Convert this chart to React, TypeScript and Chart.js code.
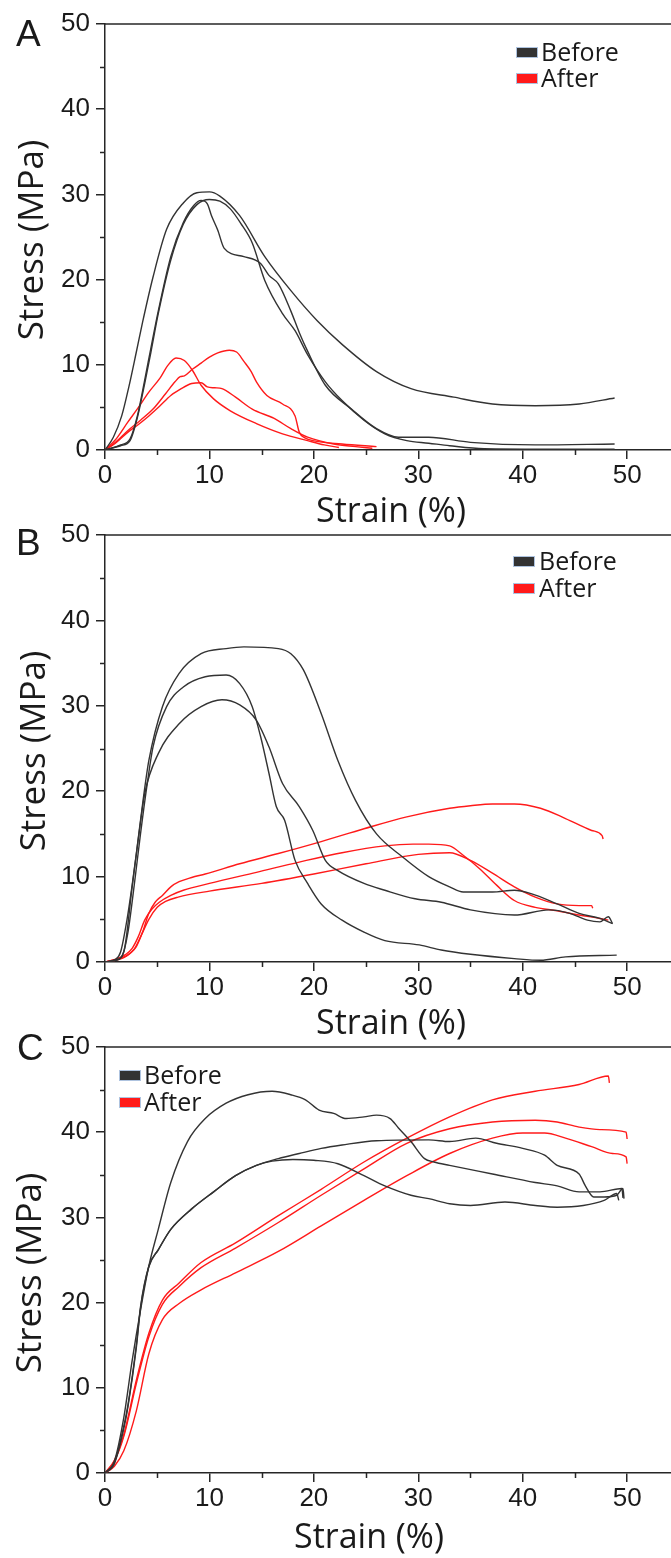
import React, { useEffect, useRef } from 'react';
import { Chart, registerables } from 'chart.js';

Chart.register(...registerables);

// ---------------- data ----------------
const xTicks = [0, 10, 20, 30, 40, 50];
const yTicks = [0, 10, 20, 30, 40, 50];
const minorTicks = [5, 15, 25, 35, 45];
const legendLabels = ['Before', 'After'];
const panelLetters = ['A', 'B', 'C'];
const xTitle = 'Strain (%)';
const yTitle = 'Stress (MPa)';

// Panel A
const A_b1_x = [0, 0.8, 1.6, 2.3, 3, 3.6, 4.6, 5.9, 7.5, 8.8, 10, 11, 12.9, 15.3, 17.8, 20.3, 22.7, 26, 29.3, 33.4, 37.1, 41.2, 45.4, 48.8];
const A_b1_y = [0, 1.5, 4, 7.5, 11.5, 15, 20.3, 25.9, 29, 30.2, 30.3, 29.8, 27.5, 22.7, 18.7, 15.2, 12.4, 9.2, 7.2, 6.2, 5.4, 5.2, 5.4, 6.1];
const A_b2_x = [0, 1.5, 2.4, 3.1, 3.8, 4.4, 5.1, 6.3, 7.5, 8.5, 9.2, 9.8, 10.2, 10.8, 11.4, 13.3, 14.9, 15.7, 16.6, 17.8, 18.6, 19.4, 21.1, 23.6, 26, 28.1, 31, 35, 41.2, 48.8];
const A_b2_y = [0, 0.6, 1.3, 4, 8.2, 12, 16.3, 22.7, 26.7, 28.7, 29.3, 28.9, 27.5, 25.8, 23.7, 22.7, 21.9, 20.5, 19.5, 16.3, 13.8, 11.6, 7.6, 4.8, 2.5, 1.5, 1.5, 0.9, 0.6, 0.7];
const A_b3_x = [0, 1.5, 2.4, 3.1, 3.8, 4.4, 5.1, 6.3, 7.5, 8.8, 10, 11, 12, 13, 14.1, 15.3, 17, 18.2, 19.4, 21.1, 22.7, 24.8, 26.8, 28.9, 31, 33, 36.3, 42, 48.8];
const A_b3_y = [0, 0.5, 1.1, 3.8, 7.8, 11.5, 16, 22.3, 26.5, 28.8, 29.4, 29.2, 28.3, 26.6, 24.3, 19.9, 16, 14, 11.2, 8, 5.8, 3.5, 1.9, 1.1, 0.8, 0.5, 0.15, 0.1, 0.1];
const A_r1_x = [0, 1, 2.2, 3.2, 4.2, 5.3, 6, 6.8, 7.6, 8.4, 9.2, 10.4, 12, 14.5, 17, 19.4, 21, 22.4];
const A_r1_y = [0, 1.2, 3.3, 5, 6.8, 8.5, 9.9, 10.8, 10.5, 9.3, 7.6, 6, 4.6, 3.1, 1.9, 1.1, 0.6, 0.3];
const A_r2_x = [0, 1, 2.2, 3.4, 4.6, 5.8, 6.7, 7.2, 7.6, 8.4, 9.2, 10, 10.8, 11.9, 12.6, 13.3, 14, 14.5, 15.5, 17, 18.2, 18.6, 19.2, 19.9, 22.7, 26];
const A_r2_y = [0, 0.9, 2.3, 3.5, 4.8, 6.6, 8, 8.6, 8.7, 9.5, 10.2, 10.9, 11.4, 11.7, 11.5, 10.4, 9.2, 8, 6.4, 5.4, 4, 2.1, 1.4, 1.1, 0.7, 0.4];
const A_r3_x = [0, 1, 2.2, 3.2, 4.2, 5.2, 6.3, 7.3, 8.3, 9.2, 9.8, 10.5, 11.2, 12.5, 14.1, 16.2, 17.8, 19.4, 21.9, 24, 25.6];
const A_r3_y = [0, 0.8, 2.1, 3, 4, 5.1, 6.4, 7.2, 7.8, 7.9, 7.4, 7.3, 7.2, 6.2, 4.8, 3.7, 2.5, 1.5, 0.7, 0.4, 0.2];

// Panel B
const B_b1_x = [0, 1, 1.5, 2.1, 2.6, 3, 3.6, 4.2, 5.5, 7.1, 9.2, 11.6, 13.3, 16.6, 17.8, 19, 20.7, 22.3, 24, 26, 28.5, 31, 33, 34.3, 37.1, 39.2, 40.8, 43.3, 45.4, 47.4, 48.6];
const B_b1_y = [0, 0.3, 1.2, 4.9, 9, 12.7, 18.5, 23.6, 29.9, 33.8, 36.1, 36.7, 36.9, 36.7, 36.1, 34.2, 29.1, 23.6, 18.9, 15, 12.3, 10, 8.8, 8.2, 8.2, 8.4, 8, 6.8, 5.7, 5.1, 4.5];
const B_b2_x = [0, 1, 1.6, 2.2, 2.8, 3.4, 4, 4.6, 5.9, 7.5, 9.6, 11.6, 12.9, 14.1, 14.9, 15.7, 16.4, 17.2, 18.2, 19.4, 20.7, 22.7, 24.8, 26.8, 30.1, 32.2, 35, 39.2, 41.7, 44.1, 49];
const B_b2_y = [0, 0.2, 0.6, 3.5, 9, 15, 20.5, 25.2, 29.9, 32.2, 33.4, 33.6, 32.6, 29.9, 26.4, 22.1, 18.2, 16.6, 11.9, 9.2, 6.8, 4.9, 3.5, 2.5, 2, 1.4, 0.9, 0.4, 0.2, 0.6, 0.8];
const B_b3_x = [0, 1, 1.8, 2.6, 3.2, 3.8, 5.1, 7.1, 9.2, 11.2, 12.9, 14.5, 15.7, 17, 18.6, 19.9, 21.1, 22.3, 24.8, 26.8, 29.7, 32.2, 35, 39.2, 42.5, 44.5, 46.2, 47.4, 48.2, 48.6];
const B_b3_y = [0, 0.2, 1.2, 8.8, 14.5, 19.7, 24.4, 27.9, 29.9, 30.7, 30.1, 28.3, 25.2, 20.9, 18.2, 15.4, 11.9, 10.7, 9.2, 8.4, 7.4, 7, 6.1, 5.5, 6.1, 5.7, 4.9, 4.7, 5.3, 4.5];
const B_r1_x = [0, 1, 1.8, 2.4, 3, 3.6, 4.2, 4.8, 5.5, 6.3, 7.1, 8.3, 9.6, 12.9, 16.6, 20.7, 24.8, 28.9, 33, 35, 37.1, 39.2, 41.7, 44.1, 46.6, 47.6, 47.7];
const B_r1_y = [0, 0.2, 0.5, 1, 1.8, 3.5, 5.7, 7, 7.8, 8.8, 9.4, 9.9, 10.3, 11.5, 12.7, 14.1, 15.6, 17, 18, 18.3, 18.5, 18.5, 18, 16.8, 15.4, 14.8, 14.4];
const B_r2_x = [0, 1, 2, 2.6, 3.2, 3.8, 4.5, 5.2, 6.3, 7.5, 10, 14.5, 18.6, 22.7, 26.8, 29.5, 31, 33, 34.3, 35.9, 37.5, 39.2, 41.2, 43.3, 45.4, 47.4, 48.2];
const B_r2_y = [0, 0.3, 0.9, 1.6, 3, 4.9, 6.2, 7, 7.8, 8.4, 9.2, 10.5, 11.7, 12.8, 13.6, 13.8, 13.8, 13.6, 12.5, 10.9, 9, 7.2, 6.4, 6, 5.5, 5.1, 4.9];
const B_r3_x = [0, 1, 2, 2.8, 3.5, 4.2, 5, 5.8, 7, 10, 15, 20, 25, 30, 33, 35, 37.1, 39.2, 41.2, 43.3, 45.4, 46.6, 46.7];
const B_r3_y = [0, 0.3, 0.7, 1.5, 3.2, 5, 6.4, 7.1, 7.6, 8.3, 9.2, 10.3, 11.5, 12.6, 12.8, 11.9, 10.4, 8.8, 7.6, 6.8, 6.6, 6.6, 6.3];

// Panel C
const C_b1_x = [0, 0.9, 1.8, 2.6, 3.4, 4.2, 5.1, 6.3, 7.9, 9.6, 11.6, 13.7, 16, 17.8, 19.2, 20.5, 21.9, 23.1, 24.8, 26, 27.3, 28.1, 29.3, 30.6, 31.5, 33, 37.1, 41.2, 43.3, 45.4, 47.4, 49.5, 49.6];
const C_b1_y = [0, 1.4, 6.5, 13.2, 19.1, 24.3, 28.6, 34.1, 38.9, 41.6, 43.4, 44.4, 44.8, 44.4, 43.8, 42.6, 42.2, 41.6, 41.8, 42, 41.6, 40.5, 38.9, 36.9, 36.5, 36.1, 35.1, 34.1, 33.7, 33, 33, 33.4, 32.3];
const C_b2_x = [0, 0.9, 1.8, 2.2, 3, 3.4, 4.2, 5.1, 6.3, 8.3, 10.4, 12.5, 14.5, 16.6, 18.6, 20.7, 22.7, 26, 31, 33, 35.5, 37.5, 40, 42.1, 43.3, 45.4, 46, 46.8, 47.8, 49, 49.6, 49.7];
const C_b2_y = [0, 1.2, 5.5, 8, 15, 19.5, 24.3, 26.2, 28.6, 31, 33, 34.9, 36.1, 36.9, 37.5, 38.1, 38.5, 39, 39.1, 38.9, 39.3, 38.7, 38.1, 37.3, 36.1, 35.1, 33.7, 32.4, 32.4, 32.6, 33.4, 32.2];
const C_b3_x = [0, 0.9, 1.8, 2.2, 3, 3.4, 4.2, 5.1, 6.3, 8.3, 10.4, 12.5, 14.5, 16, 18, 20, 22.3, 24.8, 26.8, 29.3, 31, 33, 35, 38.3, 41.2, 43.3, 45.8, 47.8, 49, 49.2];
const C_b3_y = [0, 1.1, 5.2, 7.8, 14.7, 19.3, 24.2, 26.2, 28.6, 31, 33, 34.9, 36.1, 36.6, 36.8, 36.7, 36.3, 34.9, 33.7, 32.6, 32.2, 31.6, 31.4, 31.8, 31.4, 31.2, 31.4, 32, 32.8, 32];
const C_r1_x = [0, 0.9, 1.8, 3, 4.2, 5.5, 7.1, 9.2, 12.5, 16.6, 20.7, 24.8, 28.9, 33, 37.1, 41.2, 45.4, 48.2, 48.3];
const C_r1_y = [0, 1.5, 4.5, 10.9, 16.4, 20.3, 22.3, 24.7, 27, 30.2, 33.3, 36.5, 39.3, 41.8, 43.8, 44.8, 45.6, 46.6, 45.8];
const C_r2_x = [0, 0.9, 1.8, 3, 4.2, 5.5, 7.1, 9.2, 12.5, 16.6, 20.7, 24.8, 28.9, 33, 37.1, 41.2, 43.3, 45.4, 47.4, 49.9, 50];
const C_r2_y = [0, 1.4, 4.3, 10.5, 16, 19.8, 21.9, 24.1, 26.4, 29.4, 32.6, 35.7, 38.7, 40.4, 41.2, 41.4, 41.2, 40.6, 40.3, 40, 39.2];
const C_r3_x = [0, 0.9, 1.8, 3, 4.2, 5.5, 7.1, 9.2, 12.5, 16.6, 20.7, 24.8, 28.9, 33, 37.1, 40, 42.1, 44.1, 46.6, 48.6, 49.9, 50];
const C_r3_y = [0, 0.8, 2.6, 7.3, 14, 18, 19.9, 21.5, 23.5, 26, 29, 32, 34.9, 37.5, 39.3, 39.9, 39.9, 39.3, 38.3, 37.5, 37.1, 36.3];

// ---------------- styling / layout ----------------
const BLACK = '#333333';
const RED = '#ff1a1a';
const AXIS = '#262626';
const TEXT = '#1a1a1a';
const CANVAS_W = 671;
const CANVAS_H = 535;
const AREA_LEFT = 105;
const AREA_TOP = 24;

const PANELS = [
  {
    top: 0, areaBottom: 450,
    curves: [[A_b1_x, A_b1_y, 0], [A_b2_x, A_b2_y, 0], [A_b3_x, A_b3_y, 0], [A_r1_x, A_r1_y, 1], [A_r2_x, A_r2_y, 1], [A_r3_x, A_r3_y, 1]],
    letter: { x: 16, y: 46 },
    legend: { swatchX: 517, textX: 541, base: [61, 87] },
    xTitlePos: { x: 391, y: 522 },
    yTitlePos: { x: 43, y: 240 },
  },
  {
    top: 511, areaBottom: 451,
    curves: [[B_b1_x, B_b1_y, 0], [B_b2_x, B_b2_y, 0], [B_b3_x, B_b3_y, 0], [B_r1_x, B_r1_y, 1], [B_r2_x, B_r2_y, 1], [B_r3_x, B_r3_y, 1]],
    letter: { x: 16, y: 44 },
    legend: { swatchX: 514, textX: 539, base: [59, 86] },
    xTitlePos: { x: 391, y: 523 },
    yTitlePos: { x: 45, y: 240 },
  },
  {
    top: 1023, areaBottom: 450,
    curves: [[C_b1_x, C_b1_y, 0], [C_b2_x, C_b2_y, 0], [C_b3_x, C_b3_y, 0], [C_r1_x, C_r1_y, 1], [C_r2_x, C_r2_y, 1], [C_r3_x, C_r3_y, 1]],
    letter: { x: 17, y: 37 },
    legend: { swatchX: 120, textX: 144, base: [61, 88] },
    xTitlePos: { x: 369, y: 525 },
    yTitlePos: { x: 41, y: 250 },
  },
];

const groupColors = [BLACK, RED];

const decorPlugin = {
  id: 'decor',
  afterDraw(chart: any, _args: any, opts: any) {
    const { ctx, chartArea, scales } = chart;
    const { left, right, top, bottom } = chartArea;
    ctx.save();
    // top frame line
    ctx.strokeStyle = AXIS;
    ctx.lineWidth = 1.5;
    ctx.beginPath();
    ctx.moveTo(left, top);
    ctx.lineTo(right, top);
    ctx.stroke();
    // minor ticks
    ctx.beginPath();
    minorTicks.forEach((v) => {
      const px = Math.round(scales.x.getPixelForValue(v)) + 0.5;
      ctx.moveTo(px, bottom);
      ctx.lineTo(px, bottom + 5);
      const py = Math.round(scales.y.getPixelForValue(v)) + 0.5;
      ctx.moveTo(left, py);
      ctx.lineTo(left - 5, py);
    });
    ctx.stroke();

    ctx.fillStyle = TEXT;
    ctx.textBaseline = 'alphabetic';
    // panel letter
    ctx.font = '37px "Liberation Sans", Arial, sans-serif';
    ctx.textAlign = 'left';
    ctx.fillText(opts.letter.text, opts.letter.x, opts.letter.y);

    // legend
    ctx.font = '25px "Open Sans", sans-serif';
    legendLabels.forEach((lab, i) => {
      const b = opts.legend.base[i];
      ctx.fillStyle = groupColors[i];
      ctx.fillRect(opts.legend.swatchX, b - 13, 20, 9);
      ctx.strokeStyle = 'rgba(140,170,210,0.7)';
      ctx.lineWidth = 1;
      ctx.strokeRect(opts.legend.swatchX - 0.5, b - 13.5, 21, 10);
      ctx.fillStyle = TEXT;
      ctx.fillText(lab, opts.legend.textX, b);
    });

    // axis titles
    ctx.font = '34px "Open Sans", sans-serif';
    ctx.textAlign = 'center';
    ctx.fillText(xTitle, opts.xTitlePos.x, opts.xTitlePos.y);
    ctx.save();
    ctx.font = '35px "Open Sans", sans-serif';
    ctx.translate(opts.yTitlePos.x, opts.yTitlePos.y);
    ctx.rotate(-Math.PI / 2);
    ctx.fillText(yTitle, 0, 0);
    ctx.restore();
    ctx.restore();
  },
};

function Panel({ index }: { index: number }) {
  const ref = useRef<HTMLCanvasElement | null>(null);
  const p = PANELS[index];
  useEffect(() => {
    const datasets = p.curves.map(([xs, ys, g]: any) => ({
      label: legendLabels[g],
      data: xs.map((x: number, i: number) => ({ x, y: ys[i] })),
      showLine: true,
      borderColor: groupColors[g],
      backgroundColor: groupColors[g],
      borderWidth: 1.4,
      pointRadius: 0,
      fill: false,
      cubicInterpolationMode: 'monotone',
    }));
    const tickFont = { family: '"Liberation Sans", Arial, sans-serif', size: 26 };
    const xHeight = CANVAS_H - p.areaBottom;
    const chart = new Chart(ref.current as HTMLCanvasElement, {
      type: 'scatter',
      data: { datasets },
      plugins: [decorPlugin],
      options: {
        animation: false,
        responsive: false,
        devicePixelRatio: 1,
        layout: { padding: { top: AREA_TOP, left: 0, right: 0, bottom: 0 } },
        plugins: {
          legend: { display: false },
          tooltip: { enabled: false },
          decor: {
            letter: { text: panelLetters[index], ...p.letter },
            legend: p.legend,
            xTitlePos: p.xTitlePos,
            yTitlePos: p.yTitlePos,
          },
        } as any,
        scales: {
          x: {
            type: 'linear',
            min: 0,
            max: 54.2,
            afterBuildTicks: (s: any) => { s.ticks = xTicks.map((v) => ({ value: v })); },
            afterFit: (s: any) => { s.height = xHeight; },
            ticks: { font: tickFont, color: TEXT, padding: 1, maxRotation: 0, autoSkip: false },
            grid: { drawOnChartArea: false, drawTicks: true, tickLength: 9, color: AXIS, tickColor: AXIS, tickWidth: 1.5, lineWidth: 1.5 },
            border: { display: true, color: AXIS, width: 1.5 },
          },
          y: {
            type: 'linear',
            min: 0,
            max: 50,
            afterBuildTicks: (s: any) => { s.ticks = yTicks.map((v) => ({ value: v })); },
            afterFit: (s: any) => { s.width = AREA_LEFT; },
            ticks: { font: tickFont, color: TEXT, padding: 6, autoSkip: false },
            grid: { drawOnChartArea: false, drawTicks: true, tickLength: 9, color: AXIS, tickColor: AXIS, tickWidth: 1.5, lineWidth: 1.5 },
            border: { display: true, color: AXIS, width: 1.5 },
          },
        },
      } as any,
    });
    return () => chart.destroy();
  }, [index]);
  return (
    <canvas
      ref={ref}
      width={CANVAS_W}
      height={CANVAS_H}
      style={{ position: 'absolute', left: 0, top: p.top, width: CANVAS_W, height: CANVAS_H }}
    />
  );
}

export default function App() {
  return (
    <div style={{ position: 'absolute', left: 0, top: 0, width: 671, height: 1558, background: '#ffffff', overflow: 'hidden' }}>
      <Panel index={0} />
      <Panel index={1} />
      <Panel index={2} />
    </div>
  );
}
